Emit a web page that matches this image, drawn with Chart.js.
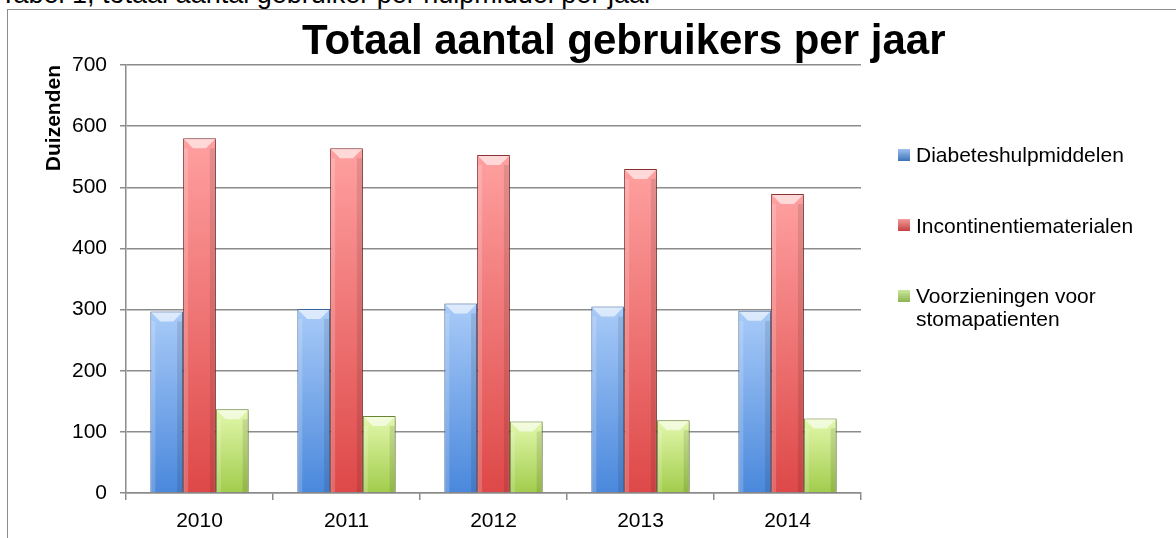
<!DOCTYPE html>
<html lang="nl">
<head>
<meta charset="utf-8">
<title>Totaal aantal gebruikers per jaar</title>
<script src="https://cdn.jsdelivr.net/npm/chart.js@4.4.1/dist/chart.umd.min.js"></script>
<style>
	html, body { margin: 0; padding: 0; background: #fff; overflow: hidden; }
	body { width: 1176px; height: 538px; position: relative; font-family: 'Liberation Sans', Arial, sans-serif; color: #000; }
	.bijschrift { position: absolute; left: 0; top: -19px; font-size: 27px; line-height: 27px; white-space: nowrap; }
	.kader { position: absolute; left: 7px; top: 9px; width: 1300px; height: 700px; border-left: 1px solid #8c8c8c; border-top: 1px solid #8c8c8c; }
	.grafik-container { position: absolute; left: 0; top: 0; width: 1176px; height: 538px; }
	.grafik-titel { position: absolute; left: 302px; top: 19px; font-size: 42px; line-height: 42px; font-weight: bold; white-space: nowrap; }
	.legenda { position: absolute; left: 898px; top: 143px; width: 250px; font-size: 21px; line-height: 23px; }
	.belgi { display: flex; align-items: flex-start; margin-bottom: 47.5px; }
	.belgi-vak { width: 12px; height: 12px; margin-top: 5.5px; margin-right: 6px; flex: none; }
</style>
</head>
<body>
<div class="bijschrift">Tabel 1, totaal aantal gebruiker per hulpmiddel per jaar</div>
<div class="kader"></div>
<div class="grafik-container"><canvas id="gebruikersGrafiek"></canvas></div>
<div class="grafik-titel">Totaal aantal gebruikers per jaar</div>
<div class="legenda"></div>
<script>
// Gegevens (duizenden gebruikers)
const jaren = ['2010', '2011', '2012', '2013', '2014']
const reeksNamen = [
	'Diabeteshulpmiddelen',
	'Incontinentiematerialen',
	'Voorzieningen voor stomapatienten',
]
const diabeteshulpmiddelen = [297, 301, 310, 305, 298]
const incontinentiematerialen = [580, 564, 553, 530, 489]
const stomavoorzieningen = [137, 126, 117, 119, 122]
const yMin = 0
const yMax = 700
const yStap = 100

// [boven, onder, rand]
const kleuren = [
	['#a9cbf8', '#4a88dc', '#3d6aa6'],
	['#ffa0a0', '#de4848', '#8e3434'],
	['#e2f8ac', '#a2cc4c', '#6f8c36'],
]
const legendaKleuren = [
	['#9cc0f0', '#3f74b8'],
	['#f39a9a', '#c64040'],
	['#cbe89a', '#8cb450'],
]

Chart.defaults.font.family = "'Liberation Sans', Arial, sans-serif"
Chart.defaults.color = '#000'

function verloop(kleur) {
	return (context) => {
		const chart = context.chart
		if (!chart.chartArea || context.raw == null) return kleur[1]
		const yScale = chart.scales.y
		const top = yScale.getPixelForValue(context.raw)
		const onder = yScale.getPixelForValue(0)
		const g = chart.ctx.createLinearGradient(0, top, 0, onder)
		g.addColorStop(0, kleur[0])
		g.addColorStop(1, kleur[1])
		return g
	}
}

// Schaduw en schuine kant op de staven
const schuinKant = {
	id: 'schuinKant',
	beforeDatasetsDraw(chart) {
		const ctx = chart.ctx
		ctx.save()
		ctx.shadowColor = 'rgba(0,0,0,0.28)'
		ctx.shadowBlur = 5
		ctx.shadowOffsetX = 2
		ctx.shadowOffsetY = 1
	},
	afterDatasetsDraw(chart) {
		const ctx = chart.ctx
		ctx.restore()
		chart.data.datasets.forEach((ds, i) => {
			chart.getDatasetMeta(i).data.forEach((staaf) => {
				const { x, y, base, width } = staaf.getProps(['x', 'y', 'base', 'width'], true)
				const l = x - width / 2
				const r = x + width / 2
				const h = Math.min(10, (base - y) / 2)
				ctx.save()
				// lichte rand links, donkere rand rechts
				ctx.fillStyle = 'rgba(255,255,255,0.18)'
				ctx.fillRect(l + 1, y + h, 4, base - y - h)
				ctx.fillStyle = 'rgba(0,0,0,0.10)'
				ctx.fillRect(r - 6, y + h, 5, base - y - h)
				// bovenkant
				ctx.fillStyle = 'rgba(255,255,255,0.6)'
				ctx.beginPath()
				ctx.moveTo(l + 1, y + 1)
				ctx.lineTo(r - 1, y + 1)
				ctx.lineTo(r - width * 0.3, y + h)
				ctx.lineTo(l + width * 0.3, y + h)
				ctx.closePath()
				ctx.fill()
				ctx.restore()
			})
		})
	},
}

const reeksWaarden = [diabeteshulpmiddelen, incontinentiematerialen, stomavoorzieningen]

const gebruikersCtx = document.getElementById('gebruikersGrafiek').getContext('2d')
const gebruikersChart = new Chart(gebruikersCtx, {
	type: 'bar',
	data: {
		labels: jaren,
		datasets: reeksNamen.map((naam, i) => ({
			label: naam,
			data: reeksWaarden[i],
			backgroundColor: verloop(kleuren[i]),
			borderColor: kleuren[i][2],
			borderWidth: 1,
			borderSkipped: 'bottom',
			barPercentage: 1,
			categoryPercentage: 0.669,
		})),
	},
	options: {
		responsive: true,
		maintainAspectRatio: false,
		animation: false,
		layout: {
			padding: { left: 0, top: 65, right: 315, bottom: 0 },
		},
		plugins: {
			legend: { display: false },
			tooltip: { enabled: false },
			title: { display: false },
		},
		scales: {
			x: {
				ticks: { color: '#000', font: { size: 21 }, padding: 9 },
				grid: {
					display: true,
					drawOnChartArea: false,
					drawTicks: true,
					tickLength: 7,
					color: '#8c8c8c',
					lineWidth: 1.5,
					offset: true,
				},
				border: { color: '#8c8c8c', width: 1.5 },
				afterFit(scale) {
					scale.height = 45
				},
			},
			y: {
				min: yMin,
				max: yMax,
				ticks: { stepSize: yStap, color: '#000', font: { size: 21 }, padding: 13 },
				grid: { color: '#8c8c8c', lineWidth: 1.5, tickLength: 6 },
				border: { color: '#8c8c8c', width: 1.5 },
				title: {
					display: true,
					text: 'Duizenden',
					align: 'end',
					color: '#000',
					font: { size: 21, weight: 'bold' },
					padding: { top: 42 },
				},
				afterFit(scale) {
					scale.width = 126
				},
			},
		},
	},
	plugins: [schuinKant],
})

// Legenda
const legenda = document.querySelector('.legenda')
reeksNamen.forEach((naam, i) => {
	const belgi = document.createElement('div')
	belgi.className = 'belgi'
	const vak = document.createElement('span')
	vak.className = 'belgi-vak'
	vak.style.background = 'linear-gradient(' + legendaKleuren[i][0] + ', ' + legendaKleuren[i][1] + ')'
	const tekst = document.createElement('span')
	tekst.textContent = naam
	belgi.appendChild(vak)
	belgi.appendChild(tekst)
	legenda.appendChild(belgi)
})
</script>
</body>
</html>
